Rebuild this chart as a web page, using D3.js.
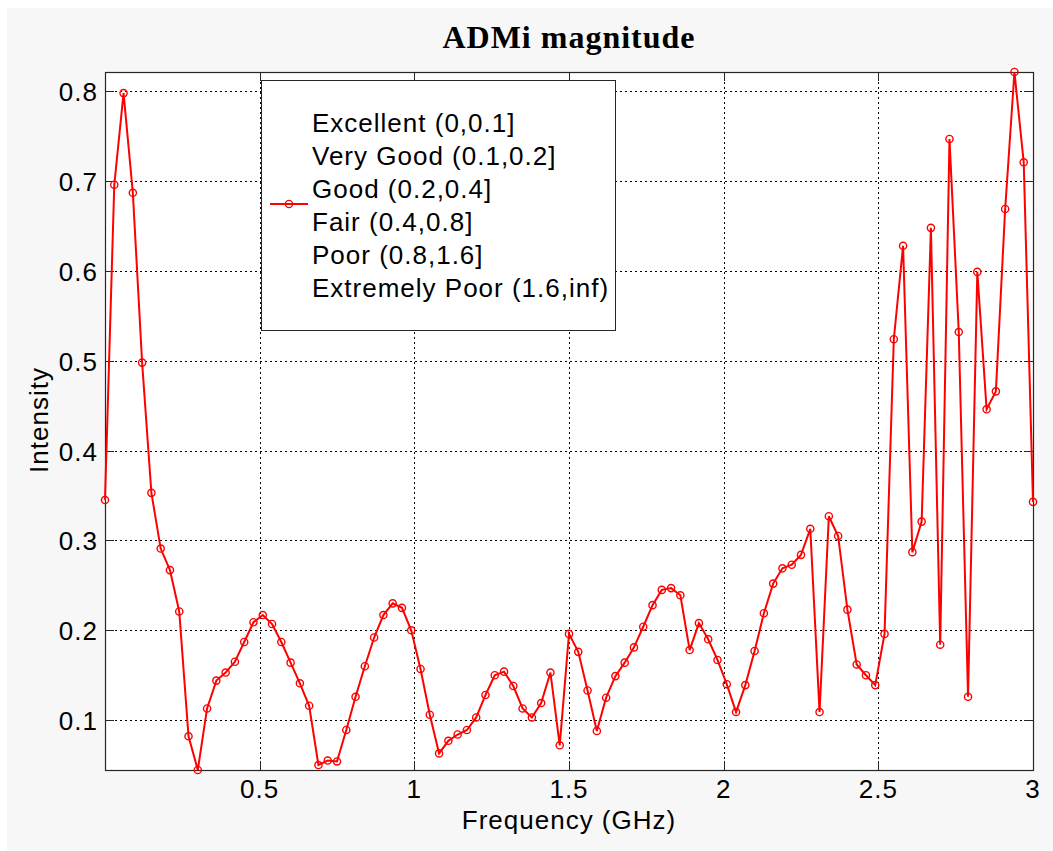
<!DOCTYPE html>
<html>
<head>
<meta charset="utf-8">
<script src="https://cdn.jsdelivr.net/npm/d3@7"></script>
<style>
    body { margin: 0; background: #ffffff; }
    svg { display: block; }
</style>
</head>
<body>
<svg id="admi-chart"></svg>
<script>
/*--------------------------------------------------------------------------------
----- LINE CHART (ADMi magnitude over frequency)
--------------------------------------------------------------------------------*/

// Frequency grid of the sweep (0 to 3 GHz, one sample every 0.03 GHz)
const frequencies = d3.range(101).map(i => +(i * 0.03).toFixed(2));

// Intensity read for every frequency sample
const intensity_values = [
    0.345, 0.696, 0.798, 0.687, 0.498, 0.353, 0.291, 0.267, 0.221, 0.082,
    0.0445, 0.113, 0.144, 0.153, 0.165, 0.187, 0.209, 0.217, 0.207, 0.187,
    0.164, 0.141, 0.116, 0.050, 0.055, 0.054, 0.089, 0.126, 0.160, 0.192,
    0.217, 0.230, 0.225, 0.200, 0.157, 0.106, 0.063, 0.077, 0.084, 0.089,
    0.103, 0.128, 0.150, 0.154, 0.138, 0.113, 0.103, 0.119, 0.153, 0.072,
    0.196, 0.176, 0.133, 0.088, 0.125, 0.149, 0.164, 0.181, 0.204, 0.228,
    0.245, 0.247, 0.239, 0.178, 0.208, 0.190, 0.167, 0.140, 0.109, 0.139,
    0.177, 0.219, 0.252, 0.269, 0.273, 0.284, 0.313, 0.109, 0.327, 0.305,
    0.223, 0.162, 0.150, 0.139, 0.196, 0.524, 0.628, 0.287, 0.321, 0.648,
    0.184, 0.747, 0.532, 0.126, 0.599, 0.446, 0.466, 0.669, 0.8215, 0.721,
    0.343
];

// Tick values and the legend text lines
const x_ticks = [0.5, 1, 1.5, 2, 2.5, 3];
const y_ticks = [0.1, 0.2, 0.3, 0.4, 0.5, 0.6, 0.7, 0.8];
const legend_lines = [
    "Excellent (0,0.1]",
    "Very Good (0.1,0.2]",
    "Good (0.2,0.4]",
    "Fair (0.4,0.8]",
    "Poor (0.8,1.6]",
    "Extremely Poor (1.6,inf)"
];

const line_data = frequencies.map((f, i) => ({ f: f, v: intensity_values[i] }));

// Configure the dimensions of the chart
const chart_width = 1053, chart_height = 851;
const plot = { left: 105, right: 1033, top: 72, bottom: 770 };
const label_font = "'Liberation Sans', Arial, sans-serif";

// Scales (tight limits on the y axis, as MATLAB did)
const x_scale = d3.scaleLinear()
    .domain([0, 3])
    .range([plot.left, plot.right]);
const y_scale = d3.scaleLinear()
    .domain(d3.extent(intensity_values))
    .range([plot.bottom, plot.top]);

const svg = d3.select("#admi-chart")
    .attr("width", chart_width)
    .attr("height", chart_height);

// Light grey figure background
svg.append("rect")
    .attr("x", 7).attr("y", 8)
    .attr("width", chart_width - 7).attr("height", chart_height - 8)
    .attr("fill", "#f7f7f7");

// White plot area
svg.append("rect")
    .attr("x", plot.left).attr("y", plot.top)
    .attr("width", plot.right - plot.left).attr("height", plot.bottom - plot.top)
    .attr("fill", "#ffffff");

// Dotted grid
const grid = svg.append("g").attr("stroke", "#000").attr("stroke-width", 1)
    .attr("stroke-dasharray", "2,3").attr("shape-rendering", "crispEdges");
grid.selectAll(".vgrid")
    .data(x_ticks)
    .enter()
    .append("line")
    .attr("x1", d => Math.round(x_scale(d)) + 0.5).attr("x2", d => Math.round(x_scale(d)) + 0.5)
    .attr("y1", plot.top).attr("y2", plot.bottom);
grid.selectAll(".hgrid")
    .data(y_ticks)
    .enter()
    .append("line")
    .attr("y1", d => Math.round(y_scale(d)) + 0.5).attr("y2", d => Math.round(y_scale(d)) + 0.5)
    .attr("x1", plot.left).attr("x2", plot.right);

// Inward tick marks on all four sides
const tick_len = 9;
const ticks = svg.append("g").attr("stroke", "#262626").attr("stroke-width", 1)
    .attr("shape-rendering", "crispEdges");
x_ticks.forEach(t => {
    const x = Math.round(x_scale(t)) + 0.5;
    ticks.append("line").attr("x1", x).attr("x2", x).attr("y1", plot.bottom).attr("y2", plot.bottom - tick_len);
    ticks.append("line").attr("x1", x).attr("x2", x).attr("y1", plot.top).attr("y2", plot.top + tick_len);
});
y_ticks.forEach(t => {
    const y = Math.round(y_scale(t)) + 0.5;
    ticks.append("line").attr("y1", y).attr("y2", y).attr("x1", plot.left).attr("x2", plot.left + tick_len);
    ticks.append("line").attr("y1", y).attr("y2", y).attr("x1", plot.right).attr("x2", plot.right - tick_len);
});

// Box around the plot
svg.append("rect")
    .attr("x", plot.left + 0.5).attr("y", plot.top + 0.5)
    .attr("width", plot.right - plot.left).attr("height", plot.bottom - plot.top)
    .attr("fill", "none")
    .attr("stroke", "#262626")
    .attr("stroke-width", 1.2);

// Tick labels
svg.selectAll(".x-label")
    .data(x_ticks)
    .enter()
    .append("text")
    .attr("x", d => x_scale(d))
    .attr("y", 798)
    .attr("text-anchor", "middle")
    .style("font-family", label_font).style("font-size", "26px").style("letter-spacing", "1px")
    .text(d => d);
svg.selectAll(".y-label")
    .data(y_ticks)
    .enter()
    .append("text")
    .attr("x", 98)
    .attr("y", d => y_scale(d) + 10)
    .attr("text-anchor", "end")
    .style("font-family", label_font).style("font-size", "26px").style("letter-spacing", "1px")
    .text(d => d3.format(".1f")(d));

// Axis titles and chart title
svg.append("text")
    .attr("x", (plot.left + plot.right) / 2)
    .attr("y", 829)
    .attr("text-anchor", "middle")
    .style("font-family", label_font).style("font-size", "26px").style("letter-spacing", "1px")
    .text("Frequency (GHz)");
svg.append("text")
    .attr("transform", "translate(48,420) rotate(-90)")
    .attr("text-anchor", "middle")
    .style("font-family", label_font).style("font-size", "26px").style("letter-spacing", "1px")
    .text("Intensity");
svg.append("text")
    .attr("x", (plot.left + plot.right) / 2)
    .attr("y", 48)
    .attr("text-anchor", "middle")
    .style("font-family", "'Liberation Serif', 'Times New Roman', serif")
    .style("font-size", "32px").style("font-weight", "bold").style("letter-spacing", "1px")
    .text("ADMi magnitude");

// The red line and its circle markers
const admi_line = d3.line()
    .x(d => x_scale(d.f))
    .y(d => y_scale(d.v))
    .curve(d3.curveLinear);

svg.append("path")
    .datum(line_data)
    .attr("d", admi_line)
    .attr("fill", "none")
    .attr("stroke", "#ff0000")
    .attr("stroke-width", 2);

svg.selectAll(".marker")
    .data(line_data)
    .enter()
    .append("circle")
    .attr("cx", d => x_scale(d.f))
    .attr("cy", d => y_scale(d.v))
    .attr("r", 3.6)
    .attr("fill", "none")
    .attr("stroke", "#ff0000")
    .attr("stroke-width", 1.4);

// Legend: one entry with a multi-line label
const legend = svg.append("g");
legend.append("rect")
    .attr("x", 261.5).attr("y", 80.5)
    .attr("width", 354).attr("height", 250)
    .attr("fill", "#ffffff")
    .attr("stroke", "#262626")
    .attr("stroke-width", 1);
legend.append("line")
    .attr("x1", 270).attr("x2", 308).attr("y1", 204).attr("y2", 204)
    .attr("stroke", "#ff0000").attr("stroke-width", 2);
legend.append("circle")
    .attr("cx", 289).attr("cy", 204).attr("r", 3.6)
    .attr("fill", "none").attr("stroke", "#ff0000").attr("stroke-width", 1.4);
legend.selectAll(".legend-text")
    .data(legend_lines)
    .enter()
    .append("text")
    .attr("x", 312)
    .attr("y", (d, i) => 132 + i * 33)
    .style("font-family", label_font).style("font-size", "26px").style("letter-spacing", "1px")
    .text(d => d);
</script>
</body>
</html>
